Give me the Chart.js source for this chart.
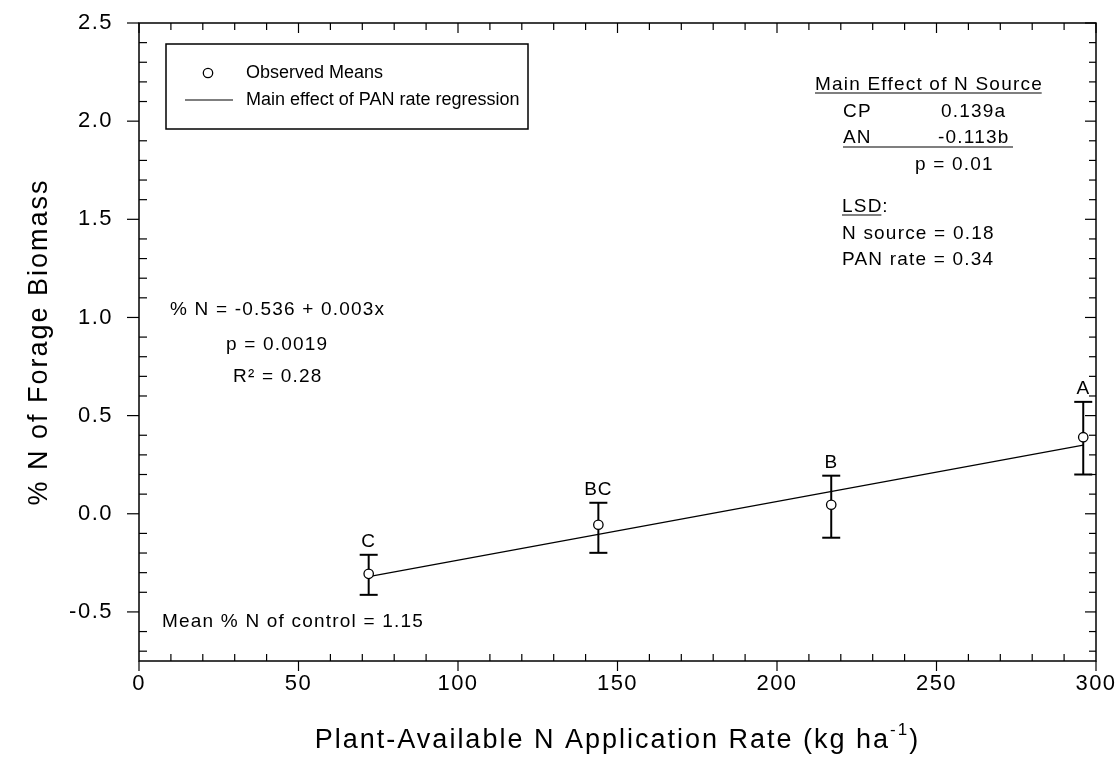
<!DOCTYPE html>
<html>
<head>
<meta charset="utf-8">
<script src="https://cdn.jsdelivr.net/npm/chart.js@4.4.1/dist/chart.umd.min.js"></script>
<style>
  html, body { margin: 0; padding: 0; background: #fff; }
  #wrap { width: 1120px; height: 771px; }
</style>
</head>
<body>
<div id="wrap"><canvas id="nChart" width="1120" height="771"></canvas></div>
<script>
// % N of forage biomass vs plant-available N rate (SigmaPlot-style frame)

const FONT = '"Liberation Sans", Arial, Helvetica, sans-serif';

// observed means and error bars
const rates   = [72, 144, 217, 296];
const means   = [-0.306, -0.056, 0.046, 0.39];
const errLow  = [-0.413, -0.199, -0.122, 0.20];
const errHigh = [-0.209, 0.056, 0.194, 0.57];
const letters = ['C', 'BC', 'B', 'A'];

// regression line end points
const regX = [72, 296];
const regY = [-0.32, 0.35];

// axes
const xTicks = [0, 50, 100, 150, 200, 250, 300];
const yTicks = [-0.5, 0.0, 0.5, 1.0, 1.5, 2.0, 2.5];
const xMinor = [10, 20, 30, 40, 60, 70, 80, 90, 110, 120, 130, 140, 160, 170, 180, 190,
                210, 220, 230, 240, 260, 270, 280, 290];
const yMinor = [-0.7, -0.6, -0.4, -0.3, -0.2, -0.1, 0.1, 0.2, 0.3, 0.4, 0.6, 0.7, 0.8, 0.9,
                1.1, 1.2, 1.3, 1.4, 1.6, 1.7, 1.8, 1.9, 2.1, 2.2, 2.3, 2.4];

const xTitle = ['Plant-Available N Application Rate (kg ha', '-1', ')'];
const yTitle = '% N of Forage Biomass';

// text boxes inside the plot, offsets from the chart area's top-left corner
const notes = [
  { t: 'Main Effect of N Source', dx: 676, dy: 62, u: true },
  { t: 'CP', dx: 704, dy: 89 },
  { t: '0.139a', dx: 802, dy: 89 },
  { t: 'AN', dx: 704, dy: 115 },
  { t: '-0.113b', dx: 799, dy: 115 },
  { t: 'p = 0.01', dx: 776, dy: 142 },
  { t: 'LSD', dx: 703, dy: 184, u: true, tail: ':' },
  { t: 'N source = 0.18', dx: 703, dy: 211 },
  { t: 'PAN rate = 0.34', dx: 703, dy: 237 },
  { t: '% N = -0.536 + 0.003x', dx: 31, dy: 287 },
  { t: 'p = 0.0019', dx: 87, dy: 322 },
  { t: 'R\u00B2 = 0.28', dx: 94, dy: 354 },
  { t: 'Mean % N of control = 1.15', dx: 23, dy: 599 }
];
const rules = [{ dx1: 704, dx2: 874, dy: 124 }];

function line(ctx, x1, y1, x2, y2) {
  ctx.beginPath();
  ctx.moveTo(x1, y1);
  ctx.lineTo(x2, y2);
  ctx.stroke();
}

const framePlugin = {
  id: 'frame',
  beforeDraw(chart) {
    chart.ctx.letterSpacing = '1.5px';
  },
  beforeDatasetsDraw(chart) {
    const { ctx, scales: { x, y } } = chart;
    ctx.save();
    ctx.strokeStyle = '#000';
    ctx.lineWidth = 2;
    rates.forEach((r, i) => {
      const px = x.getPixelForValue(r);
      const top = y.getPixelForValue(errHigh[i]);
      const bot = y.getPixelForValue(errLow[i]);
      line(ctx, px, top, px, bot);
      line(ctx, px - 9, top, px + 9, top);
      line(ctx, px - 9, bot, px + 9, bot);
    });
    ctx.restore();
  },
  afterDraw(chart) {
    const { ctx, chartArea: a, scales: { x, y } } = chart;
    ctx.save();
    ctx.strokeStyle = '#000';
    ctx.fillStyle = '#000';

    // frame
    ctx.lineWidth = 1.5;
    ctx.strokeRect(a.left, a.top, a.right - a.left, a.bottom - a.top);

    // ticks: major outward on left/bottom, minor inward; top/right inward
    ctx.lineWidth = 1.2;
    xTicks.forEach(v => {
      const px = x.getPixelForValue(v);
      line(ctx, px, a.bottom, px, a.bottom + 10);
      line(ctx, px, a.top, px, a.top + 10);
    });
    xMinor.forEach(v => {
      const px = x.getPixelForValue(v);
      line(ctx, px, a.bottom - 7, px, a.bottom);
      line(ctx, px, a.top, px, a.top + 7);
    });
    yTicks.forEach(v => {
      const py = y.getPixelForValue(v);
      line(ctx, a.left - 12, py, a.left, py);
      line(ctx, a.right - 11, py, a.right, py);
    });
    yMinor.forEach(v => {
      const py = y.getPixelForValue(v);
      line(ctx, a.left, py, a.left + 8, py);
      line(ctx, a.right - 7, py, a.right, py);
    });

    // significance letters above error bars
    ctx.font = '19px ' + FONT;
    ctx.letterSpacing = '1px';
    ctx.textAlign = 'center';
    ctx.textBaseline = 'middle';
    letters.forEach((l, i) => {
      ctx.fillText(l, x.getPixelForValue(rates[i]), y.getPixelForValue(errHigh[i]) - 13);
    });

    // legend box
    const ds = chart.data.datasets;
    ctx.lineWidth = 1.5;
    ctx.strokeRect(a.left + 27, a.top + 21, 362, 85);
    ctx.beginPath();
    ctx.arc(a.left + 69, a.top + 50, 4.7, 0, Math.PI * 2);
    ctx.lineWidth = 1.3;
    ctx.stroke();
    ctx.lineWidth = 1.2;
    line(ctx, a.left + 46, a.top + 77, a.left + 94, a.top + 77);
    ctx.font = '18px ' + FONT;
    ctx.letterSpacing = '0px';
    ctx.textAlign = 'left';
    ctx.fillText(ds[0].label, a.left + 107, a.top + 50);
    ctx.fillText(ds[1].label, a.left + 107, a.top + 77);

    // annotations
    ctx.font = '19px ' + FONT;
    ctx.letterSpacing = '1.2px';
    notes.forEach(n => {
      const tx = a.left + n.dx, ty = a.top + n.dy;
      ctx.fillText(n.t, tx, ty);
      const w = ctx.measureText(n.t).width - 1.2;
      if (n.u) {
        ctx.lineWidth = 1.2;
        line(ctx, tx, ty + 8, tx + w, ty + 8);
      }
      if (n.tail) ctx.fillText(n.tail, tx + w + 1, ty);
    });
    rules.forEach(r => {
      ctx.lineWidth = 1.2;
      line(ctx, a.left + r.dx1, a.top + r.dy, a.left + r.dx2, a.top + r.dy);
    });

    // x axis title with superscript
    ctx.letterSpacing = '2px';
    const big = '27px ' + FONT, small = '17px ' + FONT;
    ctx.font = big;
    const w1 = ctx.measureText(xTitle[0]).width;
    const w3 = ctx.measureText(xTitle[2]).width;
    ctx.font = small;
    const w2 = ctx.measureText(xTitle[1]).width;
    let tx = (a.left + a.right) / 2 - (w1 + w2 + w3) / 2;
    const ty = 741;
    ctx.font = big;
    ctx.fillText(xTitle[0], tx, ty);
    ctx.font = small;
    ctx.fillText(xTitle[1], tx + w1, ty - 11);
    ctx.font = big;
    ctx.fillText(xTitle[2], tx + w1 + w2, ty);

    // y axis title
    ctx.font = big;
    ctx.textAlign = 'center';
    ctx.translate(40, (a.top + a.bottom) / 2);
    ctx.rotate(-Math.PI / 2);
    ctx.fillText(yTitle, 0, 0);
    ctx.restore();
  }
};

const ctx = document.getElementById('nChart').getContext('2d');

new Chart(ctx, {
  type: 'scatter',
  data: {
    datasets: [
      {
        label: 'Observed Means',
        data: rates.map((r, i) => ({ x: r, y: means[i] })),
        showLine: false,
        pointStyle: 'circle',
        pointRadius: 4.7,
        pointBorderWidth: 1.3,
        pointBackgroundColor: '#fff',
        pointBorderColor: '#000'
      },
      {
        label: 'Main effect of PAN rate regression',
        data: regX.map((v, i) => ({ x: v, y: regY[i] })),
        showLine: true,
        borderColor: '#000',
        borderWidth: 1.2,
        pointRadius: 0
      }
    ]
  },
  options: {
    responsive: false,
    animation: false,
    devicePixelRatio: 1,
    layout: { padding: { top: 23, right: 24, bottom: 0, left: 0 } },
    scales: {
      x: {
        type: 'linear',
        min: 0,
        max: 300,
        afterBuildTicks: s => { s.ticks = xTicks.map(v => ({ value: v })); },
        afterFit: s => { s.height = 110; s.paddingLeft = 0; s.paddingRight = 0; },
        grid: { display: false, drawTicks: false },
        border: { display: false },
        ticks: {
          color: '#000',
          font: { family: FONT, size: 22 },
          padding: 10,
          maxRotation: 0,
          autoSkip: false
        },
        title: { display: false }
      },
      y: {
        type: 'linear',
        min: -0.75,
        max: 2.5,
        afterBuildTicks: s => { s.ticks = yTicks.map(v => ({ value: v })); },
        afterFit: s => { s.width = 139; s.paddingTop = 0; s.paddingBottom = 0; },
        grid: { display: false, drawTicks: false },
        border: { display: false },
        ticks: {
          color: '#000',
          font: { family: FONT, size: 22 },
          padding: 26,
          callback: v => v.toFixed(1)
        }
      }
    },
    plugins: {
      legend: { display: false },
      tooltip: { enabled: false }
    }
  },
  plugins: [framePlugin]
});
</script>
</body>
</html>
